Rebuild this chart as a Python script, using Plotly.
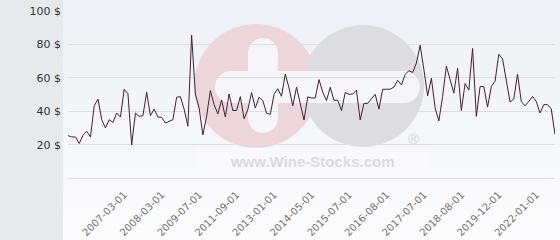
import plotly.graph_objects as go

# ---- data ----
prices = [25.5, 24.7, 24.7, 20.8, 25.7, 28.1, 24.7, 43.3, 47.3, 35.0,
          30.1, 35.0, 33.4, 39.0, 36.6, 53.2, 50.5, 20.0, 39.0, 37.0,
          37.4, 51.4, 37.4, 41.4, 36.6, 36.4, 33.0, 33.8, 35.0, 48.4,
          48.8, 41.3, 31.1, 85.5, 50.4, 41.9, 25.9, 37.0, 52.4, 44.0,
          38.5, 46.8, 36.6, 50.4, 40.5, 40.5, 48.8, 35.6, 40.9, 51.2,
          42.0, 48.4, 46.4, 38.9, 38.2, 50.0, 53.5, 49.0, 62.3, 54.0,
          43.3, 54.4, 45.0, 34.8, 48.6, 48.0, 48.0, 59.0, 51.5, 46.4,
          54.4, 46.6, 46.6, 40.5, 51.2, 50.2, 50.3, 52.6, 34.8, 44.7,
          44.8, 47.7, 50.2, 41.3, 53.2, 53.2, 53.2, 54.5, 58.5, 55.8,
          62.0, 64.3, 63.2, 68.8, 79.5, 65.0, 49.3, 59.8, 42.0, 34.3,
          49.0, 67.0, 58.8, 50.9, 65.7, 40.5, 56.6, 52.7, 77.6, 37.0,
          54.8, 54.8, 42.5, 54.8, 58.0, 74.1, 71.3, 58.8, 45.6, 47.3,
          62.2, 45.9, 43.3, 45.9, 48.9, 45.9, 39.0, 44.0, 44.0, 41.5,
          26.1]
tick_labels = ["2007-03-01", "2008-03-01", "2009-07-01", "2011-09-01",
               "2013-01-01", "2014-05-01", "2015-07-01", "2016-08-01",
               "2017-07-01", "2018-08-01", "2019-12-01", "2022-01-01"]
tick_index = [15, 25, 35, 45, 55, 65, 75, 85, 95, 105, 115, 125]
y_ticks = [20, 40, 60, 80, 100]
y_tick_text = ["20 $", "40 $", "60 $", "80 $", "100 $"]

x_idx = list(range(len(prices)))

# ---- layout helpers (pixel -> paper) ----
W, H = 560, 240
ML, MR, MT, MB = 68, 5, 10, 61
PW, PH = W - ML - MR, H - MT - MB


def px(x):
    return (x - ML) / PW


def py(y):
    return (H - MB - y) / PH


shapes = []
# background gradient bands
n_bands = 24
c_top = (238, 240, 245)
c_bot = (252, 252, 253)
for i in range(n_bands):
    t = i / (n_bands - 1)
    c = tuple(round(a + (b - a) * t) for a, b in zip(c_top, c_bot))
    y0 = H * i / n_bands
    y1 = H * (i + 1) / n_bands + 0.5
    shapes.append(dict(type="rect", xref="paper", yref="paper", layer="below",
                       x0=px(63), x1=px(W + 2), y0=py(y1), y1=py(y0),
                       fillcolor="rgb(%d,%d,%d)" % c, line_width=0))
# left panel
shapes.append(dict(type="rect", xref="paper", yref="paper", layer="below",
                   x0=px(-2), x1=px(63), y0=py(H + 2), y1=py(-2),
                   fillcolor="#e6eaed", line_width=0))
# watermark: light plate under text
shapes.append(dict(type="rect", xref="paper", yref="paper", layer="below",
                   x0=px(197), x1=px(430), y0=py(173), y1=py(148),
                   fillcolor="#f9f9fb", line_width=0))


def circle(cx, cy, r, color):
    return dict(type="circle", xref="paper", yref="paper", layer="below",
                x0=px(cx - r), x1=px(cx + r), y0=py(cy + r), y1=py(cy - r),
                fillcolor=color, line_width=0)


def rect(x0, y0, x1, y1, color):
    return dict(type="rect", xref="paper", yref="paper", layer="below",
                x0=px(x0), x1=px(x1), y0=py(y1), y1=py(y0),
                fillcolor=color, line_width=0)


pink = "#edd5dc"
grey = "#dddddf"
bar = "#f6f6f8"
shapes.append(circle(256, 86, 62, pink))
shapes.append(circle(363, 86, 61, grey))
# horizontal bar (rounded ends)
shapes.append(rect(231, 71, 404, 103, bar))
shapes.append(circle(231, 87, 16, bar))
shapes.append(circle(404, 87, 16, bar))
# vertical bar of the plus
shapes.append(rect(248, 53, 278, 118, bar))
shapes.append(circle(263, 53, 15, bar))
shapes.append(circle(263, 118, 15, bar))

annotations = [
    dict(text="<b>www.Wine-Stocks.com</b>", xref="paper", yref="paper",
         x=px(312), y=py(161), showarrow=False, xanchor="center", yanchor="middle",
         font=dict(family="Liberation Sans", size=15, color="#dadadc")),
    dict(text="®", xref="paper", yref="paper",
         x=px(413), y=py(138), showarrow=False, xanchor="center", yanchor="middle",
         font=dict(family="Liberation Sans", size=15, color="#d4d4d6")),
]

fig = go.Figure()
fig.add_trace(go.Scatter(x=x_idx, y=prices, mode="lines",
                         line=dict(color="#3e2230", width=1),
                         hoverinfo="skip", showlegend=False))

fig.update_layout(
    width=W, height=H,
    margin=dict(l=ML, r=MR, t=MT, b=MB, pad=0, autoexpand=False),
    paper_bgcolor="#f5f6f9",
    plot_bgcolor="rgba(0,0,0,0)",
    shapes=shapes,
    annotations=annotations,
    xaxis=dict(range=[0, len(prices) - 1], tickmode="array",
               tickvals=tick_index, ticktext=tick_labels, tickangle=-45,
               showgrid=False, zeroline=False, showline=False, ticks="",
               ticklabelstandoff=7, automargin=False,
               tickfont=dict(family="DejaVu Sans", size=10, color="#707070"),
               fixedrange=True),
    yaxis=dict(range=[-0.42, 100.54], tickmode="array",
               tickvals=y_ticks, ticktext=y_tick_text,
               showgrid=True, gridcolor="#dedee2", gridwidth=1,
               zeroline=True, zerolinecolor="#dedee2", zerolinewidth=1,
               showline=False, ticks="", ticklabelstandoff=6, automargin=False,
               tickfont=dict(family="DejaVu Sans", size=11, color="#333333"),
               fixedrange=True),
)

fig.write_html("out.html", config={"displayModeBar": False})
